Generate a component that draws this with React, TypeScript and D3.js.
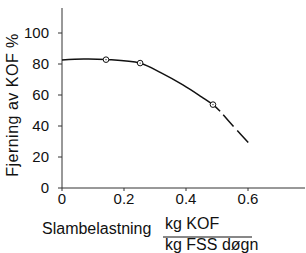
import React from "react";
import * as d3 from "d3";

const xTicks = [0, 0.2, 0.4, 0.6];
const xTickLabels = ["0", "0.2", "0.4", "0.6"];
const yTicks = [0, 20, 40, 60, 80, 100];
const yTickLabels = ["0", "20", "40", "60", "80", "100"];

// measured points (Slambelastning, Fjerning %)
const pointX = [0.142, 0.252, 0.487];
const pointY = [82.8, 80.6, 53.8];

// fitted curve (solid part)
const solidX = [0, 0.07, 0.142, 0.252, 0.32, 0.39, 0.45, 0.487, 0.51];
const solidY = [82.6, 83.2, 82.9, 80.5, 74.3, 66.5, 58.8, 53.8, 49.5];
// extrapolated curve (dashed part)
const dashX = [0.51, 0.558, 0.605];
const dashY = [49.5, 38.7, 28.4];

const W = 306;
const H = 253;

export default function App() {
  const x = d3.scaleLinear().domain([0, 0.6]).range([62, 248]);
  const y = d3.scaleLinear().domain([0, 100]).range([188, 33]);

  const line = d3
    .line<[number, number]>()
    .x((d) => x(d[0]))
    .y((d) => y(d[1]))
    .curve(d3.curveCatmullRom.alpha(0.5));

  const solidPts = solidX.map((v, i) => [v, solidY[i]] as [number, number]);
  const dashPts = dashX.map((v, i) => [v, dashY[i]] as [number, number]);

  const font = "'Liberation Sans', Arial, Helvetica, sans-serif";
  const axisColor = "#333";

  return (
    <svg
      width={W}
      height={H}
      style={{ position: "absolute", left: 0, top: 0, background: "#fff" }}
      fontFamily={font}
    >
      <rect x={0} y={0} width={W} height={H} fill="#fff" />
      {/* y axis */}
      <line x1={x(0)} x2={x(0)} y1={8} y2={y(0)} stroke={axisColor} strokeWidth={1} />
      {yTicks.map((t, i) => (
        <g key={"yt" + t}>
          <line x1={x(0) - 4} x2={x(0)} y1={y(t)} y2={y(t)} stroke={axisColor} strokeWidth={1} />
          <text
            x={49}
            y={y(t)}
            dy="0.36em"
            textAnchor="end"
            fontSize={15}
            fill="#111"
          >
            {yTickLabels[i]}
          </text>
        </g>
      ))}
      {/* x axis */}
      <line x1={x(0)} x2={305} y1={y(0)} y2={y(0)} stroke={axisColor} strokeWidth={1} />
      {xTicks.map((t, i) => (
        <g key={"xt" + t}>
          <line x1={x(t)} x2={x(t)} y1={y(0)} y2={y(0) + 3} stroke={axisColor} strokeWidth={1} />
          <text x={x(t)} y={204} textAnchor="middle" fontSize={15} fill="#111">
            {xTickLabels[i]}
          </text>
        </g>
      ))}

      {/* curve */}
      <path d={line(solidPts) || ""} fill="none" stroke="#111" strokeWidth={1.5} />
      <path
        d={line(dashPts) || ""}
        fill="none"
        stroke="#111"
        strokeWidth={1.5}
        strokeDasharray="0 5 15 6 16 20"
      />

      {/* points */}
      {pointX.map((v, i) => (
        <g key={"p" + i}>
          <circle cx={x(v)} cy={y(pointY[i])} r={2.8} fill="#fff" stroke="#111" strokeWidth={1} />
          <circle cx={x(v)} cy={y(pointY[i])} r={0.6} fill="#111" />
        </g>
      ))}

      {/* y title */}
      <text
        transform="translate(18,105) rotate(-90)"
        textAnchor="middle"
        fontSize={16}
        letterSpacing={0.5}
        fill="#111"
      >
        Fjerning av KOF %
      </text>

      {/* x title */}
      <text x={42} y={234} fontSize={16} fill="#111">
        Slambelastning
      </text>
      <text x={165} y={229} fontSize={16} fill="#111">
        kg KOF
      </text>
      <line x1={163} x2={252} y1={237} y2={237} stroke="#111" strokeWidth={1} />
      <text x={165} y={250} fontSize={16} fill="#111">
        kg FSS døgn
      </text>
    </svg>
  );
}
